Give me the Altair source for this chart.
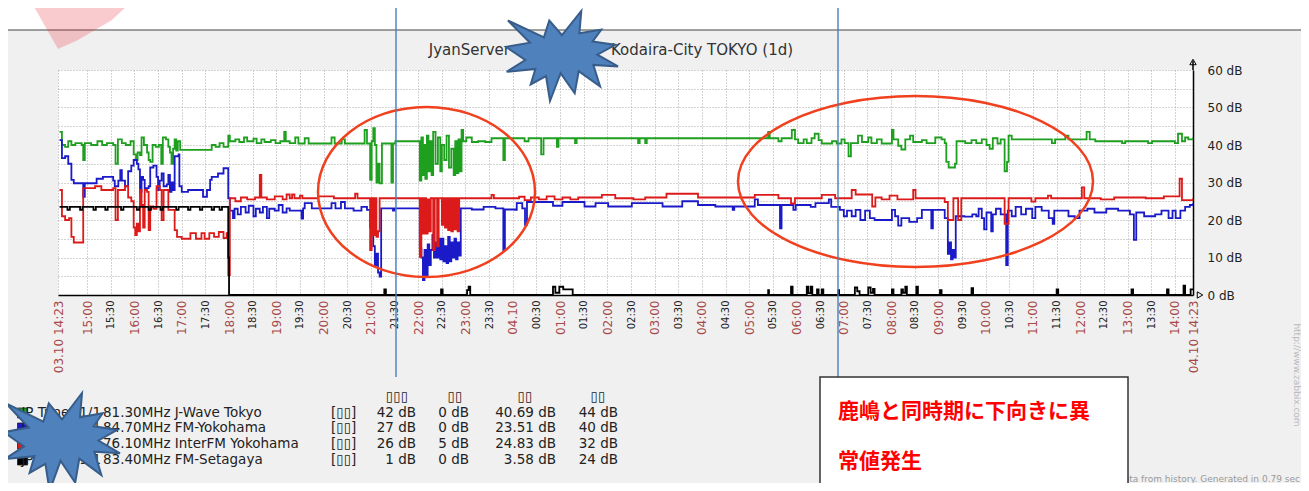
import json
import pandas as pd
import altair as alt

# ---------------- data (minutes after 03.10 14:23, dB) ----------------
GREEN = [(2, 43.5), (5, 40), (9, 39.5), (13, 41), (17, 40), (22, 40.5), (30, 40), (32, 36), (34, 40.5), (42, 40),
         (50, 41), (56, 40), (62, 40.5), (70, 40), (73, 35), (76, 41.5), (81, 40.5), (86, 40), (92, 41), (96, 37.5),
         (99, 36), (101, 38), (104, 37.3), (106, 42), (109, 40), (113, 38), (115, 36), (117, 35.5), (120, 40),
         (124, 39.5), (128, 40), (131, 35), (133, 42), (137, 41.5), (140, 39.5), (142, 38), (144, 35), (146, 39),
         (148, 41.5), (150, 38.5), (152, 41), (155, 38.7), (195, 40), (200, 39.5), (205, 40.5), (210, 39.5),
         (216, 42.5), (218, 41), (225, 41.5), (230, 40.8), (236, 42), (240, 41), (248, 41.7), (252, 40.5),
         (258, 41.5), (262, 40.8), (270, 41.3), (276, 40.5), (282, 41), (287, 43.5), (289, 41), (294, 40.5),
         (301, 42), (305, 40.4), (313, 41.8), (318, 40.4), (347, 42), (351, 40.4), (360, 41.5), (364, 40.4),
         (389, 44), (392, 40.4), (396, 30.7), (398, 41), (400, 44.5), (402, 40), (404, 30), (406, 35), (408, 29.8),
         (411, 40.4), (423, 30), (425, 40.4), (428, 41), (459, 30.5), (461, 42), (463, 32), (464, 40), (466, 31),
         (468, 42.5), (470, 33), (472, 41), (474, 32), (476, 43.5), (479, 35), (482, 42), (485, 33), (487, 40),
         (490, 36), (493, 42.5), (496, 34), (499, 39), (502, 32), (504, 41), (506, 32.5), (508, 41.5), (510, 33),
         (512, 44), (514, 41), (518, 42), (525, 40.8), (533, 41), (542, 40.8), (550, 41.8), (565, 36), (567, 41.8),
         (592, 41), (597, 41.8), (613, 37.5), (616, 41.8), (633, 39.5), (635, 41.8), (656, 40.5), (658, 41.8),
         (736, 40.5), (738, 41.8), (745, 40.5), (747, 41.8), (901, 43.5), (903, 41.8), (914, 41), (918, 41.8),
         (931, 44), (935, 41.5), (939, 40.5), (946, 41.5), (950, 40.5), (956, 41.8), (960, 43), (965, 41.3),
         (969, 40.4), (982, 41), (988, 40.4), (994, 41.5), (998, 40.5), (1003, 37), (1006, 40.5), (1015, 42.5),
         (1020, 40.8), (1028, 42), (1032, 40.5), (1039, 41.5), (1045, 40.4), (1058, 44), (1060, 41.5), (1066, 39.8),
         (1070, 38.8), (1075, 41.5), (1081, 42.5), (1085, 40.8), (1096, 41.3), (1102, 40.5), (1113, 42),
         (1121, 41.5), (1125, 40.5), (1127, 35.5), (1130, 34), (1138, 35), (1140, 41), (1151, 40.5), (1159, 41.3),
         (1165, 40.5), (1172, 41.5), (1178, 40), (1182, 39), (1186, 41.8), (1192, 40.4), (1196, 41.5), (1201, 33),
         (1204, 35.5), (1206, 42.5), (1210, 41.5), (1261, 40.5), (1265, 41.5), (1278, 42.5), (1282, 41.5),
         (1305, 43.5), (1309, 41.5), (1316, 41), (1350, 40.5), (1354, 41), (1383, 40.5), (1388, 41), (1417, 40.5),
         (1421, 43), (1426, 41), (1430, 42), (1434, 41.5), (1440, 42)]

BLUE = [(2, 41.3), (5, 36.5), (9, 37), (13, 35), (17, 30.7), (20, 29.8), (32, 26.2), (34, 29.8), (49, 31), (57, 31.5),
        (70, 30.5), (72, 29), (76.5, 30.5), (79, 33.3), (81, 30.5), (85, 29), (89, 33), (93, 34.5), (96, 36),
        (100, 35), (102, 33.5), (104, 27.5), (106, 31.5), (108, 30.7), (110, 28.5), (115, 29), (117, 34),
        (121, 34.5), (125, 31.5), (127, 28), (129, 30.5), (131.5, 32.4), (134, 29), (138, 29.5), (140, 32),
        (142, 27.5), (144, 30), (146, 28), (148, 37), (153, 37.5), (154, 29), (157, 27.5), (165, 28), (182, 28),
        (184, 26.2), (189, 28), (193, 30.7), (195, 31.5), (203, 32.4), (210, 33.8), (216, 25.8), (218, 22.5),
        (222, 20.5), (224, 23), (228, 21.5), (232, 23.5), (238, 22), (242, 23.8), (248, 21), (251, 23), (256, 22),
        (260, 23.5), (265, 20.5), (268, 23), (275, 22.5), (280, 24), (285, 22), (290, 23.1), (294, 22.5),
        (309, 20.4), (311, 23.1), (313, 24.5), (322, 23.1), (347, 24.5), (352, 23.1), (359, 24.8), (364, 23.1),
        (375, 22.5), (385, 23.5), (392, 22.7), (396, 18), (398, 22.5), (400, 13), (402, 8), (404, 11), (406, 6),
        (408, 4.9), (410, 23.1), (425, 22.5), (427, 23.1), (459, 12.5), (461, 10), (463, 4), (465, 12), (467, 5),
        (469, 13.5), (471, 8), (473, 12), (475, 16), (477, 10), (479, 14), (481, 10), (483, 15), (485, 9.5),
        (487, 15), (489, 9), (491, 13), (493, 8.5), (495, 15.5), (497, 9), (499, 14), (501, 10), (503, 15),
        (505, 9.5), (507, 14), (509, 10.5), (511, 23.1), (525, 22.8), (540, 23.5), (555, 23.1), (565, 12),
        (567, 22.8), (580, 22.7), (582, 24.5), (589, 23.1), (592.5, 18.7), (595, 24.8), (628, 23.8), (640, 24.8),
        (668, 23.6), (682, 24.5), (698, 23.6), (728, 24.5), (767, 23.6), (792, 25), (812, 24), (834, 23.6),
        (856, 22.7), (858, 23.6), (884, 25.5), (888, 24), (916, 17.8), (918, 24), (933, 22.7), (936, 24),
        (955, 23.5), (961, 24.5), (978, 25.5), (981, 23.5), (992, 22.7), (997, 21), (1001, 22.5), (1007, 21),
        (1012, 22.7), (1018, 20), (1024, 22.5), (1030, 20.5), (1036, 20), (1058, 22.7), (1062, 21), (1066, 18.5),
        (1070, 20.5), (1080, 19.5), (1090, 20.5), (1096, 22.7), (1108, 17.8), (1110, 22.7), (1125, 20.5),
        (1129, 11), (1131, 14), (1133, 9.5), (1135, 12), (1137, 10), (1139, 21), (1150, 20.9), (1160, 21.5),
        (1165, 21), (1168, 23), (1172, 20.5), (1175, 17.5), (1178, 22), (1184, 17), (1186, 21.5), (1190, 23),
        (1196, 21.5), (1203, 8), (1205, 22.5), (1210, 21), (1215, 23.5), (1222, 21.5), (1228, 23), (1236, 20.5),
        (1240, 23.5), (1248, 22.5), (1257, 20.5), (1262, 19), (1264, 22.5), (1282, 21), (1290, 20.5), (1296, 22.5),
        (1306, 23), (1315, 22), (1330, 23), (1345, 22.5), (1360, 21.5), (1365, 14.7), (1368, 22), (1378, 21),
        (1392, 21.5), (1400, 22.5), (1409, 20.5), (1414, 22.5), (1418, 20.5), (1424, 22.5), (1430, 23.5),
        (1436, 24), (1440, 24.5)]

RED = [(2, 28), (5, 21), (9, 20), (14, 20.5), (17, 15.5), (20, 14), (32, 28.5), (47, 29), (55, 28), (70, 28.5),
       (73, 20), (76, 28), (85, 29), (89, 26), (93, 25), (96, 18), (98, 16), (100, 19), (102, 17), (104, 28),
       (106, 24), (108, 18), (110, 28), (113, 27.5), (115, 17.3), (117, 23.6), (121, 23), (125, 29), (129, 28),
       (131.5, 20), (134, 28), (140, 22.7), (148, 17.3), (151, 15.5), (157, 15), (165, 15), (168, 16.5), (175, 15),
       (182, 16.5), (186, 15), (192, 16.5), (198, 15.5), (204, 16.8), (210, 15.2), (214, 16.5), (216, 5.3),
       (218, 25.8), (225, 25), (232, 26), (240, 25.5), (250, 26), (256, 32), (258, 26), (265, 25.5), (275, 26.3),
       (285, 25.5), (290, 26.8), (294, 25.8), (297, 26.8), (300, 25.8), (307, 26.5), (310, 25.8), (330, 26.3),
       (350, 25.8), (377, 27), (380, 25.8), (396, 12), (398, 25.8), (400, 16), (402, 25.8), (404, 15.5), (406, 17),
       (408, 25.8), (459, 10.2), (461, 25.8), (463, 16.4), (465, 25.8), (467, 16.4), (469, 25.5), (471, 17),
       (473, 25.8), (476, 12), (478, 25.8), (481, 13), (483, 25.8), (487, 18.7), (489, 25.8), (491, 18),
       (493, 25.8), (495, 17.3), (497, 25.8), (499, 17), (501, 25.8), (503, 17.5), (505, 25.8), (507, 17),
       (509, 25.8), (550, 26.7), (553, 25.8), (585, 26.2), (592, 25.3), (600, 26), (610, 25.5), (620, 26.3),
       (630, 25.5), (640, 26), (650, 25.5), (660, 26), (690, 26.7), (707, 25.8), (730, 25.5), (745, 26),
       (772, 27), (812, 26), (884, 26.7), (914, 25.8), (930, 24.4), (935, 25.8), (969, 26.7), (986, 25.8),
       (1007, 28), (1012, 26.8), (1033, 23.6), (1037, 26), (1045, 25.5), (1055, 26.5), (1065, 25.5), (1085, 28),
       (1088, 25.8), (1125, 24.8), (1129, 20), (1136, 25.8), (1142, 20), (1146, 25.8), (1201, 19), (1206, 25.8),
       (1235, 24.9), (1240, 25.8), (1256, 26.5), (1260, 25.8), (1299, 28.7), (1302, 25.8), (1323, 25.5),
       (1340, 26), (1380, 25.8), (1403, 26.3), (1423, 31), (1426, 25.3), (1440, 25.8)]

BLACK = [(2, 23.5), (12, 22.7), (15, 23.5), (28, 22.7), (31, 23.5), (45, 22.7), (48, 23.5), (60, 22.7), (63, 23.5),
         (80, 22.7), (83, 23.5), (100, 22.7), (103, 23.5), (115, 22.7), (118, 23.5), (130, 22.7), (133, 23.5),
         (150, 22.7), (153, 23.5), (165, 22.7), (168, 23.5), (180, 22.7), (183, 23.5), (195, 22.7), (198, 23.5),
         (205, 22.7), (208, 23.5), (216, 10), (217, 0), (414, 1.5), (416, 0), (486, 1.5), (488, 0), (519, 1.3),
         (521, 2.2), (523, 0), (628, 2.2), (631, 0.6), (636, 2.2), (641, 1.5), (651, 1.5), (653, 0), (901, 1.3),
         (902, 0), (930, 2.2), (932, 0), (950, 2.2), (952, 0.5), (955, 2.2), (957, 0), (963, 1.5), (965, 0),
         (969, 1.5), (971, 0), (990, 1.3), (991, 0), (1011, 2), (1014, 1), (1017, 0), (1028, 2), (1031, 0.6),
         (1034, 1.6), (1036, 0), (1058, 1.5), (1060, 0), (1070, 1.5), (1072, 0.6), (1075, 2.2), (1077, 0),
         (1089, 2.2), (1091, 0), (1119, 1.3), (1121, 0), (1159, 1.8), (1161, 0), (1267, 1.5), (1269, 0),
         (1362, 1.5), (1364, 0), (1407, 1.5), (1409, 0), (1428, 2.5), (1430, 0), (1437, 1.5), (1440, 1.5)]

SERIES = [GREEN, BLUE, RED, BLACK]
SERIES_COLORS = ["#1f9f1f", "#1a1ac8", "#dd1a1a", "#000000"]
LEGEND_PREFIX = ["JP Tuner 1/1", "JP Tuner 1/1", "JP Tuner 1/1", "JP Tuner 1/1"]
LEGEND_NAMES = ["81.30MHz J-Wave Tokyo", "84.70MHz  FM-Yokohama", "76.10MHz InterFM Yokohama", "83.40MHz  FM-Setagaya"]
LEGEND_FUNC = "[\u25af\u25af]"
LEGEND_HEADERS = ["\u25af\u25af\u25af", "\u25af\u25af", "\u25af\u25af", "\u25af\u25af"]
LEGEND_LAST = ["42 dB", "27 dB", "26 dB", "1 dB"]
LEGEND_MIN = ["0 dB", "0 dB", "5 dB", "0 dB"]
LEGEND_AVG = ["40.69 dB", "23.51 dB", "24.83 dB", "3.58 dB"]
LEGEND_MAX = ["44 dB", "40 dB", "32 dB", "24 dB"]

TICK_MINUTES = [0] + list(range(37, 1418, 30)) + [1440]
TICK_LABELS = ["03.10 14:23",
               "15:00", "15:30", "16:00", "16:30", "17:00", "17:30", "18:00", "18:30", "19:00", "19:30",
               "20:00", "20:30", "21:00", "21:30", "22:00", "22:30", "23:00", "23:30",
               "04.10",
               "00:30", "01:00", "01:30", "02:00", "02:30", "03:00", "03:30", "04:00", "04:30", "05:00",
               "05:30", "06:00", "06:30", "07:00", "07:30", "08:00", "08:30", "09:00", "09:30", "10:00",
               "10:30", "11:00", "11:30", "12:00", "12:30", "13:00", "13:30", "14:00",
               "04.10 14:23"]
Y_TICKS = [0, 5, 10, 15, 20, 25, 30, 35, 40, 45, 50, 55, 60]

TITLE_LEFT = "JyanServer"
TITLE_RIGHT = "Kodaira-City TOKYO  (1d)"
NOTE_LINES = ["鹿嶋と同時期に下向きに異", "常値発生"]
URL_TEXT = "http://www.zabbix.com"
FOOT_TEXT = "Data from history. Generated in 0.79 sec"

assert len(TICK_MINUTES) == len(TICK_LABELS)

# ---------------- layout ----------------
W, H = 1135, 225
OX, OY = 58, 70  # page position of plot origin


def P(x, y):
    return x - OX, y - OY


STAR_PTS = [(0, -0.463), (0.345, -1), (0.311, -0.507), (0.702, -0.587), (0.546, -0.323), (0.953, -0.247),
            (0.630, -0.030), (1, 0.231), (0.559, 0.198), (0.680, 0.675), (0.298, 0.339), (0.227, 0.828),
            (-0.025, 0.383), (-0.214, 1), (-0.286, 0.447), (-0.559, 0.631), (-0.475, 0.290), (-0.988, 0.351),
            (-0.655, 0.090), (-1, -0.202), (-0.572, -0.295), (-0.966, -0.788), (-0.323, -0.415), (-0.227, -0.788)]


def star_path(sx, sy):
    return "M" + " L".join(f"{x * sx:.1f},{y * sy:.1f}" for x, y in STAR_PTS) + " Z"


def ellipse_path(rx, ry):
    k = 0.5523
    return (f"M{-rx},0 C{-rx},{-k * ry:.1f} {-k * rx:.1f},{-ry} 0,{-ry} "
            f"C{k * rx:.1f},{-ry} {rx},{-k * ry:.1f} {rx},0 "
            f"C{rx},{k * ry:.1f} {k * rx:.1f},{ry} 0,{ry} "
            f"C{-k * rx:.1f},{ry} {-rx},{k * ry:.1f} {-rx},0 Z")


def rect(x0, x1, y0, y1, **kw):
    return alt.Chart().mark_rect(**kw).encode(
        x=alt.value(x0), x2=alt.value(x1), y=alt.value(y0), y2=alt.value(y1))


def text(s, x, y, size=13.5, color="#222222", align="left", font="DejaVu Sans", weight="normal", angle=0):
    return alt.Chart().mark_text(align=align, baseline="middle", fontSize=size, color=color, font=font,
                                 fontWeight=weight, angle=angle).encode(
        x=alt.value(x), y=alt.value(y), text=alt.value(s))


def shape(path, x, y, **kw):
    return alt.Chart().mark_point(shape=path, size=4, opacity=1, **kw).encode(x=alt.value(x), y=alt.value(y))


half_test = "(datum.value + 53) % 60 == 0"
x_axis = alt.Axis(
    values=TICK_MINUTES,
    labelExpr=f"{json.dumps(TICK_LABELS)}[indexof({json.dumps(TICK_MINUTES)}, datum.value)]",
    labelAngle=270, labelAlign="right", labelBaseline="middle", labelPadding=5,
    labelFont="DejaVu Sans",
    labelFontSize={"condition": {"test": half_test, "value": 10}, "value": 12},
    labelColor={"condition": {"test": half_test, "value": "#222222"}, "value": "#a84848"},
    labelOverlap=False, labelFlush=False, labelBound=False,
    ticks=False, domainColor="#000000", domainWidth=1.5,
    grid=True, gridColor="#a8a8a8", gridDash=[1, 2], gridWidth=1, title=None)
y_axis = alt.Axis(
    orient="right", values=Y_TICKS,
    labelExpr="datum.value % 10 == 0 ? datum.value + ' dB' : ''",
    labelPadding=14, labelFontSize=12, labelColor="#222222", labelFont="DejaVu Sans",
    labelOverlap=False, ticks=False, domainColor="#000000", domainWidth=1.5,
    grid=True, gridColor="#a8a8a8", gridDash=[1, 2], gridWidth=1, title=None)

layers = []

# white strip above the grey frame and the frame's top border
bx0, by0 = P(4, 30)
bx1, by1 = P(1305, 488)
layers.append(rect(bx0 - 10, bx1 + 10, -OY - 10, by0, color="white"))
layers.append(alt.Chart().mark_rule(color="#444444", strokeWidth=1.2).encode(
    x=alt.value(bx0), x2=alt.value(bx1), y=alt.value(by0)))

# pink translucent shape (top-left)
layers.append(shape("M-34,-60 L87,-60 L54,-29 L20,-9 L0,0 Z", *P(58, 49), filled=True,
                    fill="#e8303c", fillOpacity=0.25, strokeOpacity=0))

# data lines
for pairs, col in zip(SERIES, SERIES_COLORS):
    df = pd.DataFrame(pairs, columns=["t", "v"])
    layers.append(alt.Chart(df).mark_line(interpolate="step-after", color=col, strokeWidth=1.8, clip=True).encode(
        x=alt.X("t:Q", scale=alt.Scale(domain=[0, 1440], nice=False, zero=False), axis=x_axis),
        y=alt.Y("v:Q", scale=alt.Scale(domain=[0, 60], nice=False), axis=y_axis)))

# axis arrows
layers.append(alt.Chart().mark_rule(color="black", strokeWidth=1.5).encode(
    x=alt.value(W), y=alt.value(-9), y2=alt.value(0)))
layers.append(alt.Chart().mark_point(shape="triangle-up", size=40, filled=False, stroke="black", strokeWidth=1,
                                     opacity=1).encode(x=alt.value(W), y=alt.value(-8)))
layers.append(alt.Chart().mark_point(shape="triangle-right", size=40, filled=False, stroke="black", strokeWidth=1,
                                     opacity=1).encode(x=alt.value(W + 7), y=alt.value(H)))

# title
layers.append(text(TITLE_LEFT, *P(510, 50), size=15, color="#333333", align="right"))
layers.append(text(TITLE_RIGHT, *P(611, 50), size=15, color="#333333", align="left"))

# legend table
row_y = [413, 428, 444, 460]
head_x = [397, 455, 525, 598]
for hx, h in zip(head_x, LEGEND_HEADERS):
    layers.append(text(h, *P(hx, 397), align="center"))
for i in range(4):
    _, yy = P(0, row_y[i])
    layers.append(alt.Chart().mark_point(shape="square", size=100, filled=True, fill=SERIES_COLORS[i],
                                         stroke="#222222", strokeWidth=0.8, opacity=1).encode(
        x=alt.value(22.5 - OX), y=alt.value(yy)))
    layers.append(text(LEGEND_PREFIX[i], 101 - OX, yy, align="right"))
    layers.append(text(LEGEND_NAMES[i], 103 - OX, yy))
    layers.append(text(LEGEND_FUNC, 331 - OX, yy))
    layers.append(text(LEGEND_LAST[i], 416 - OX, yy, align="right"))
    layers.append(text(LEGEND_MIN[i], 469 - OX, yy, align="right"))
    layers.append(text(LEGEND_AVG[i], 556 - OX, yy, align="right"))
    layers.append(text(LEGEND_MAX[i], 618 - OX, yy, align="right"))

# side / foot texts
layers.append(text(URL_TEXT, *P(1297, 375), size=9, color="#bbbbbb", align="center", angle=90))
layers.append(text(FOOT_TEXT, *P(1300, 479), size=9, color="#999999", align="right"))

# red ellipses
ell = "#f0401e"
layers.append(shape(ellipse_path(108.5, 85), *P(426.5, 192), filled=False, stroke=ell, strokeWidth=2.5))
layers.append(shape(ellipse_path(177.5, 85.5), *P(915.5, 181.5), filled=False, stroke=ell, strokeWidth=2.5))

# blue vertical lines
for lx in (396, 838):
    layers.append(alt.Chart().mark_rule(color="#4a7ebb", strokeWidth=1.4).encode(
        x=alt.value(lx - OX), y=alt.value(-80), y2=alt.value(377 - OY)))

# starbursts
layers.append(shape(star_path(56, 45), *P(562, 56), filled=True, fill="#4f81bd", stroke="#385d8a", strokeWidth=2))
layers.append(shape(star_path(58, 49), *P(62, 442), filled=True, fill="#4f81bd", stroke="#385d8a", strokeWidth=2))

# note box
layers.append(rect(820 - OX, 1128 - OX, 377 - OY, 488 - OY, color="white", stroke="#333333", strokeWidth=1.5))
layers.append(text(NOTE_LINES[0], *P(838, 412), size=21, color="#ff0000", font="Noto Sans CJK JP", weight="bold"))
layers.append(text(NOTE_LINES[1], *P(838, 462), size=21, color="#ff0000", font="Noto Sans CJK JP", weight="bold"))

chart = alt.layer(*layers, data=pd.DataFrame({"k": [0]})).properties(
    width=W, height=H,
    autosize=alt.AutoSizeParams(type="none"),
    padding={"left": OX - 8, "top": OY - 8, "right": 1293 - (OX - 8) - W, "bottom": 475 - (OY - 8) - H},
    background="#f0f0f0",
).configure_view(stroke=None, fill="white")

chart.save("out.html", embed_options={"renderer": "svg", "actions": False})
